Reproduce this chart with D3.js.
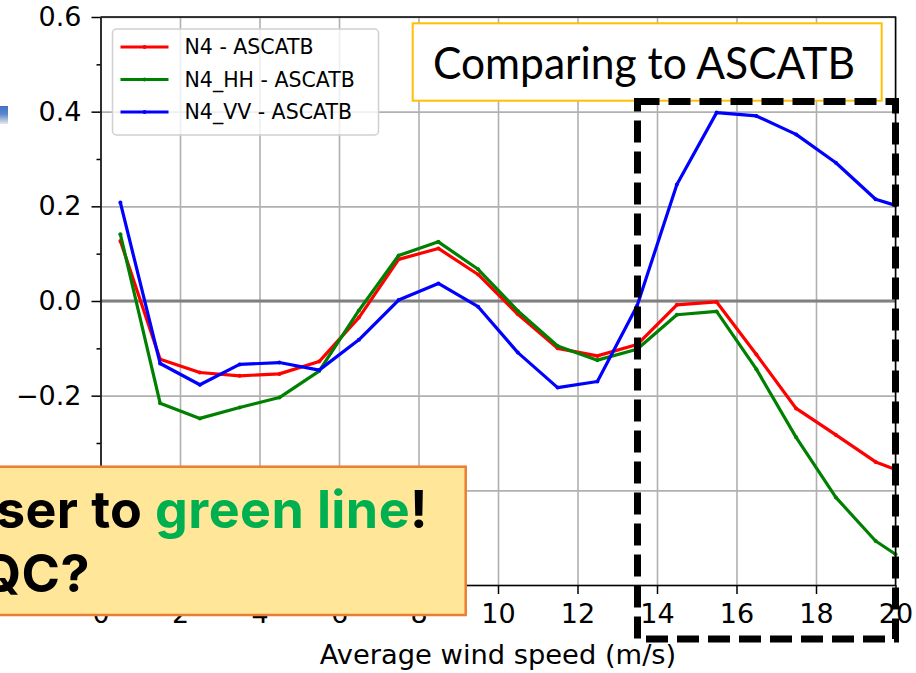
<!DOCTYPE html>
<html>
<head>
<meta charset="utf-8">
<script src="https://d3js.org/d3.v7.min.js"></script>
<style>
  body { margin: 0; background: #fff; }
  svg { display: block; }
  .axis text { font-family: "DejaVu Sans", sans-serif; font-size: 27px; fill: #000; }
  .axis path, .axis line { stroke: #000; stroke-width: 1.5; }
  .grid line { stroke: #b0b0b0; stroke-width: 1.6; }
  .grid path { display: none; }
</style>
</head>
<body>
<svg id="chart" width="916" height="673"></svg>
<script>
// wind speed bins (m/s)
var windSpeed = [0.5, 1.5, 2.5, 3.5, 4.5, 5.5, 6.5, 7.5, 8.5, 9.5, 10.5,
                 11.5, 12.5, 13.5, 14.5, 15.5, 16.5, 17.5, 18.5, 19.5, 20];

var n4 = [0.127, -0.123, -0.151, -0.158, -0.154, -0.128, -0.035, 0.088, 0.111, 0.056, -0.028,
          -0.100, -0.116, -0.092, -0.008, -0.002, -0.113, -0.227, -0.283, -0.340, -0.356];
var n4HH = [0.141, -0.216, -0.248, -0.225, -0.204, -0.148, -0.020, 0.096, 0.125, 0.067, -0.021,
            -0.095, -0.125, -0.102, -0.029, -0.022, -0.144, -0.288, -0.415, -0.507, -0.535];
var n4VV = [0.208, -0.132, -0.177, -0.134, -0.130, -0.146, -0.082, 0.002, 0.037, -0.012, -0.109,
            -0.183, -0.170, -0.010, 0.246, 0.398, 0.391, 0.352, 0.292, 0.215, 0.202];

var seriesNames = ["N4 - ASCATB", "N4_HH - ASCATB", "N4_VV - ASCATB"];
var seriesColors = ["#ff0000", "#008000", "#0000ff"];

var xTicks = [0, 2, 4, 6, 8, 10, 12, 14, 16, 18, 20];
var yTicks = [-0.6, -0.4, -0.2, 0.0, 0.2, 0.4, 0.6];
var yMinorTicks = [-0.5, -0.3, -0.1, 0.1, 0.3, 0.5];

var xLabel = "Average wind speed (m/s)";
var boxTitle = "Comparing to ASCATB";

var margin = {top: 17, right: 20, bottom: 88, left: 100.5},
    width = 895.5 - margin.left,
    height = 585 - margin.top;

var svg = d3.select("#chart");

var x = d3.scaleLinear()
    .domain([0, 20])
    .range([0, width]);

var y = d3.scaleLinear()
    .domain([-0.6, 0.6])
    .range([height, 0]);

var g = svg.append("g")
    .attr("transform", "translate(" + margin.left + "," + margin.top + ")");

// grid
g.append("g")
    .attr("class", "grid")
    .attr("transform", "translate(0," + height + ")")
    .call(d3.axisBottom(x).tickValues(xTicks).tickSize(-height).tickFormat(""));

g.append("g")
    .attr("class", "grid")
    .call(d3.axisLeft(y).tickValues(yTicks).tickSize(-width).tickFormat(""));

// zero line
g.append("line")
    .attr("x1", 0)
    .attr("x2", width)
    .attr("y1", y(0))
    .attr("y2", y(0))
    .style("stroke", "#808080")
    .style("stroke-width", 3);

var series = [n4, n4HH, n4VV].map(function(vals, i) {
  return {
    name: seriesNames[i],
    color: seriesColors[i],
    values: vals.map(function(v, j) { return {x: windSpeed[j], y: v}; })
  };
});

var line = d3.line()
    .x(function(d) { return x(d.x); })
    .y(function(d) { return y(d.y); });

var lines = g.selectAll(".series")
    .data(series)
  .enter().append("g")
    .attr("class", "series");

lines.append("path")
    .attr("d", function(d) { return line(d.values); })
    .style("fill", "none")
    .style("stroke", function(d) { return d.color; })
    .style("stroke-width", 3.2)
    .style("stroke-linejoin", "round");

lines.selectAll("circle")
    .data(function(d) { return d.values.map(function(p) { return {p: p, c: d.color}; }); })
  .enter().append("circle")
    .attr("cx", function(d) { return x(d.p.x); })
    .attr("cy", function(d) { return y(d.p.y); })
    .attr("r", 2)
    .style("fill", function(d) { return d.c; });

// axes
g.append("g")
    .attr("class", "axis")
    .attr("transform", "translate(0," + height + ")")
    .call(d3.axisBottom(x).tickValues(xTicks).tickSize(9).tickSizeOuter(0).tickPadding(10).tickFormat(d3.format("d")));

g.append("g")
    .attr("class", "axis")
    .call(d3.axisLeft(y).tickValues(yTicks).tickSize(9).tickSizeOuter(0).tickPadding(10).tickFormat(d3.format(".1f")));

g.append("g")
    .attr("class", "axis")
    .call(d3.axisLeft(y).tickValues(yMinorTicks).tickSize(4).tickSizeOuter(0).tickFormat(""))
    .select(".domain").remove();

// top and right spines
g.append("path")
    .attr("d", "M0,0H" + width + "V" + height)
    .style("fill", "none")
    .style("stroke", "#000")
    .style("stroke-width", 1.5);

g.append("text")
    .attr("x", width / 2)
    .attr("y", height + 79)
    .attr("text-anchor", "middle")
    .style("font-family", "DejaVu Sans, sans-serif")
    .style("font-size", "27.3px")
    .text(xLabel);

// legend
var legend = g.append("g")
    .attr("transform", "translate(12,12)");

legend.append("rect")
    .attr("width", 266)
    .attr("height", 106)
    .attr("rx", 4)
    .style("fill", "#fff")
    .style("fill-opacity", 0.8)
    .style("stroke", "#d0d0d0")
    .style("stroke-width", 1.5);

var item = legend.selectAll(".item")
    .data(series)
  .enter().append("g")
    .attr("class", "item")
    .attr("transform", function(d, i) { return "translate(0," + (18 + i * 32.5) + ")"; });

item.append("line")
    .attr("x1", 8)
    .attr("x2", 56)
    .style("stroke", function(d) { return d.color; })
    .style("stroke-width", 3.2);

item.append("circle")
    .attr("cx", 32)
    .attr("r", 2)
    .style("fill", function(d) { return d.color; });

item.append("text")
    .attr("x", 72)
    .attr("dy", "0.36em")
    .style("font-family", "DejaVu Sans, sans-serif")
    .style("font-size", "20.5px")
    .text(function(d) { return d.name; });

// "Comparing to ASCATB" box
svg.append("rect")
    .attr("x", 412.7)
    .attr("y", 23.3)
    .attr("width", 469)
    .attr("height", 77.4)
    .style("fill", "#fff")
    .style("stroke", "#ffc000")
    .style("stroke-width", 2);

svg.append("text")
    .attr("x", 644)
    .attr("y", 79)
    .attr("text-anchor", "middle")
    .attr("textLength", 422)
    .attr("lengthAdjust", "spacingAndGlyphs")
    .style("font-family", "Lato, sans-serif")
    .style("font-size", "44px")
    .text(boxTitle);

// dashed highlight box
svg.append("rect")
    .attr("x", 637.5)
    .attr("y", 101.5)
    .attr("width", 258)
    .attr("height", 537.5)
    .style("fill", "none")
    .style("stroke", "#000")
    .style("stroke-width", 7)
    .style("stroke-dasharray", "22,9");

// callout box (partly cut at the left edge)
svg.append("rect")
    .attr("x", -3)
    .attr("y", 466.7)
    .attr("width", 468.7)
    .attr("height", 148.3)
    .style("fill", "#ffe699")
    .style("stroke", "#ed7d31")
    .style("stroke-width", 2.5);

var note = svg.append("text")
    .attr("text-anchor", "end")
    .style("font-family", "Inter, sans-serif")
    .style("font-weight", "bold")
    .style("font-size", "52px")
    .style("letter-spacing", "0.4px");

var row1 = note.append("tspan")
    .attr("x", 428)
    .attr("y", 528);
row1.append("tspan").text("ser to ");
row1.append("tspan").style("fill", "#00b050").text("green line");
row1.append("tspan").text("!");

note.append("tspan")
    .attr("x", 90)
    .attr("y", 592)
    .text("QC?");

// little bar at the left edge
var grad = svg.append("defs").append("linearGradient")
    .attr("id", "edgeGrad")
    .attr("x1", 0).attr("y1", 0).attr("x2", 0).attr("y2", 1);
grad.append("stop").attr("offset", "0%").attr("stop-color", "#4472c4");
grad.append("stop").attr("offset", "45%").attr("stop-color", "#5b86cf");
grad.append("stop").attr("offset", "100%").attr("stop-color", "#e8e8e8");

svg.append("rect")
    .attr("x", 0)
    .attr("y", 106)
    .attr("width", 8)
    .attr("height", 18)
    .style("fill", "url(#edgeGrad)");
</script>
</body>
</html>
